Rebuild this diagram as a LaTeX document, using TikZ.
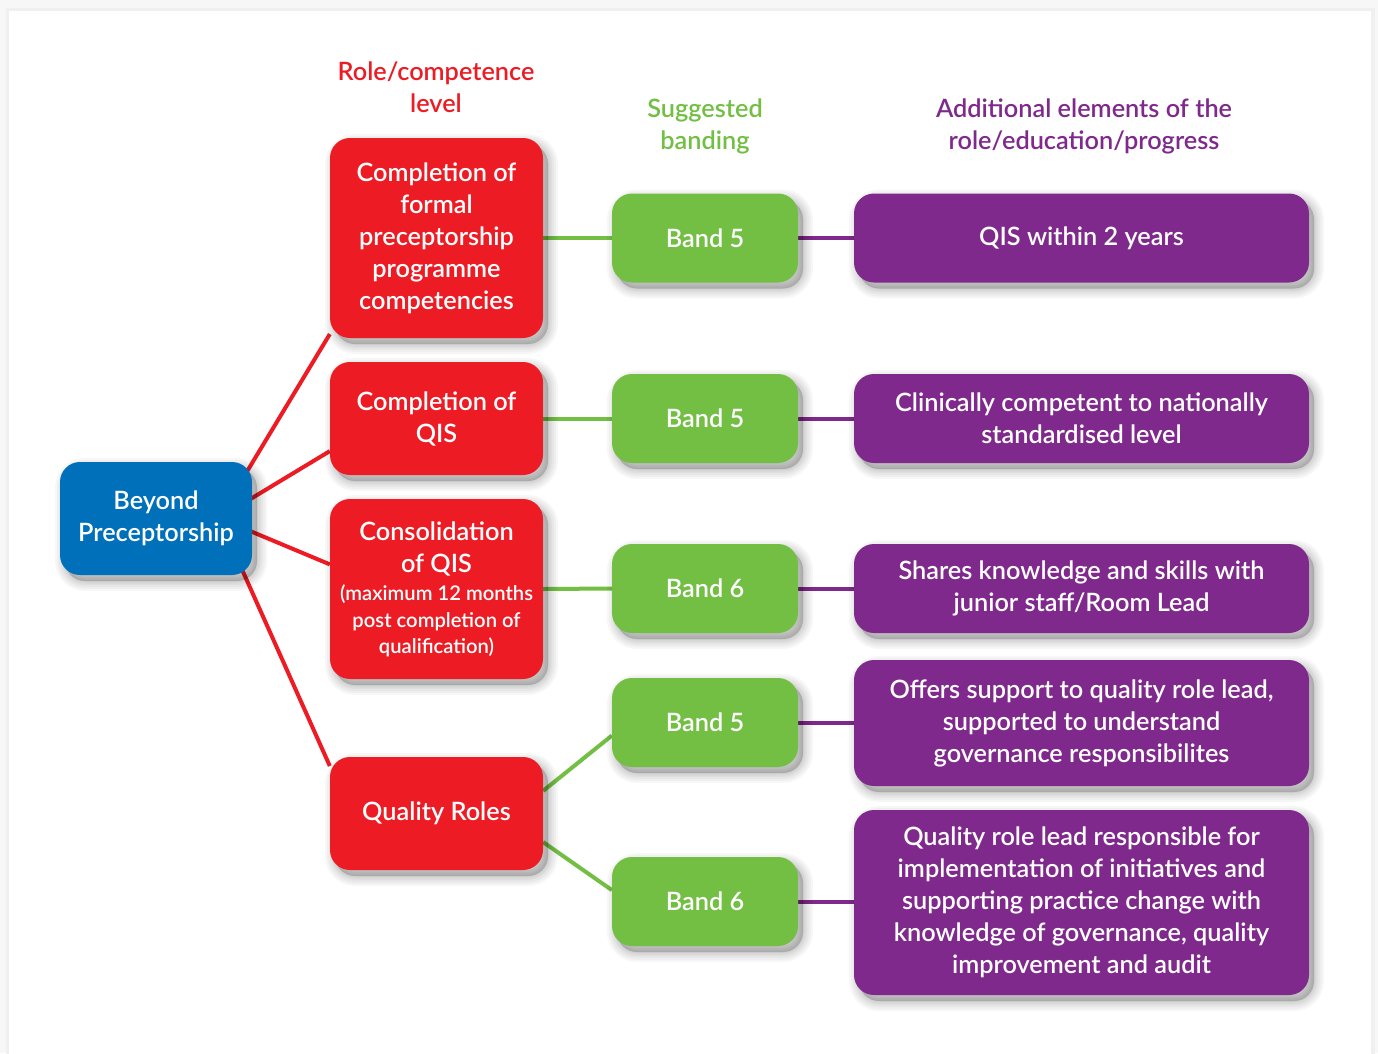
\documentclass[tikz,border=0pt]{standalone}
\usepackage{fontspec}
\setmainfont{Lato}[UprightFont=* Semibold, BoldFont=* Bold]
\usetikzlibrary{backgrounds}

\definecolor{qred}{RGB}{237,28,36}
\definecolor{qgreen}{RGB}{114,191,68}
\definecolor{qpurple}{RGB}{128,41,140}
\definecolor{qblue}{RGB}{0,112,186}

\pgfdeclarelayer{paper}
\pgfsetlayers{paper,background,main}

\newcommand\bigfont{\fontsize{25.3}{32}\selectfont}
\newcommand\smallfont{\fontsize{20.2}{26}\selectfont}

\tikzset{
  % soft shadow: a few wide, faint strokes under the box
  softshade/.style={preaction={draw=black, fill=black, opacity=0.03, line width=#1,
    transform canvas={xshift=5pt, yshift=-6pt}}},
  shadowed/.style={softshade=20pt, softshade=16pt, softshade=12pt, softshade=8pt,
    softshade=5pt, softshade=2pt},
  box/.style={shadowed, rounded corners=20pt, text=white, align=center, inner sep=0pt,
    font=\bigfont},
  startbox/.style={box, fill=qblue, minimum width=192pt, minimum height=113pt},
  levelbox/.style={box, fill=qred, minimum width=213pt},
  bandbox/.style={box, fill=qgreen, minimum width=186pt, minimum height=89pt},
  notebox/.style={box, fill=qpurple, minimum width=455pt},
  head/.style={align=center, font=\bigfont},
  link/.style={line width=4pt},
}

\begin{document}
\begin{tikzpicture}[x=1pt, y=-1pt]
  \useasboundingbox (0,0) rectangle (1378,1053);

  % page with its card
  \begin{pgfonlayer}{paper}
    \fill[gray!6] (0,0) rectangle (1378,1053);
    \fill[gray!12] (6,8) rectangle (1375,1060);
    \fill[white] (9,11) rectangle (1371,1060);
  \end{pgfonlayer}

  % column heads
  \node[head, text=qred] (hlevel) at (436,87) {Role/competence\\level};
  \node[head, text=qgreen] (hband) at (705,126) {Suggested\\banding};
  \node[head, text=qpurple] (hnote) at (1084,126) {Additional elements of the\\role/education/progress};

  % start
  \node[startbox] (bp) at (156,518.5) {Beyond\\Preceptorship};
  \coordinate (hub) at (219,518);

  % competence levels
  \node[levelbox, minimum height=200pt] (r1) at (436.5,238)
    {Completion of\\formal\\preceptorship\\programme\\competencies};
  \node[levelbox, minimum height=113pt] (r2) at (436.5,418.5) {Completion of\\QIS};
  \node[levelbox, minimum height=180pt] (r3) at (436.5,589)
    {Consolidation\\of QIS\\[-4pt]\smallfont(maximum 12 months\\[-5pt]\smallfont post completion of\\[-6pt]\smallfont qualification)};
  \node[levelbox, minimum height=113pt] (r4) at (436.5,813.5) {Quality Roles};

  % banding
  \node[bandbox] (g1) at (705,238) {Band 5};
  \node[bandbox] (g2) at (705,418.5) {Band 5};
  \node[bandbox] (g3) at (705,588.5) {Band 6};
  \node[bandbox] (g4) at (705,722.5) {Band 5};
  \node[bandbox] (g5) at (705,901.5) {Band 6};

  % additional elements
  \node[notebox, minimum height=89pt] (p1) at (1081.5,238) {QIS within 2 years};
  \node[notebox, minimum height=89pt] (p2) at (1081.5,418.5)
    {Clinically competent to nationally\\standardised level};
  \node[notebox, minimum height=89pt] (p3) at (1081.5,588.5)
    {Shares knowledge and skills with\\junior staff/Room Lead};
  \node[notebox, minimum height=126pt] (p4) at (1081.5,723)
    {Offers support to quality role lead,\\supported to understand\\governance responsibilites};
  \node[notebox, minimum height=185pt] (p5) at (1081.5,902.5)
    {Quality role lead responsible for\\implementation of initiatives and\\supporting practice change with\\knowledge of governance, quality\\improvement and audit};

  % connectors
  \begin{pgfonlayer}{background}
    \draw[link, qred] (hub) -- (r1.222);
    \draw[link, qred] (hub) -- (r2.197);
    \draw[link, qred] (hub) -- (r3.167);
    \draw[link, qred] (hub) -- (r4.156);
    \draw[link, qgreen] (r1.east) -- (g1.west);
    \draw[link, qgreen] (r2.east) -- (g2.west);
    \draw[link, qgreen] (r3.east) -- (g3.west);
    \draw[link, qgreen] (r4.12) -- (g4.188);
    \draw[link, qgreen] (r4.345) -- (g5.173);
    \draw[link, qpurple] (g1.east) -- (p1.west |- g1.east);
    \draw[link, qpurple] (g2.east) -- (p2.west |- g2.east);
    \draw[link, qpurple] (g3.east) -- (p3.west |- g3.east);
    \draw[link, qpurple] (g4.east) -- (p4.west |- g4.east);
    \draw[link, qpurple] (g5.east) -- (p5.west |- g5.east);
  \end{pgfonlayer}
\end{tikzpicture}
\end{document}
